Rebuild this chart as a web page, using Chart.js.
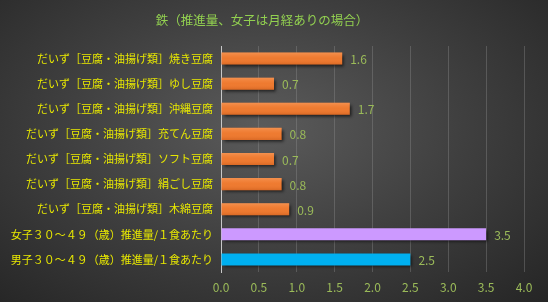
<!DOCTYPE html>
<html>
<head>
<meta charset="utf-8">
<script src="https://cdn.jsdelivr.net/npm/chart.js@4/dist/chart.umd.min.js"></script>
<style>
html,body{margin:0;padding:0;}
body{width:548px;height:302px;overflow:hidden;
background:radial-gradient(ellipse farthest-corner at 48% 42%, #5b5b5b 0%, #3f3f3f 50%, #252525 100%);}
#wrap{position:relative;width:548px;height:302px;}
</style>
</head>
<body>
<div id="wrap"><canvas id="c" width="548" height="302"></canvas></div>
<script>
const title = "鉄（推進量、女子は月経ありの場合）";
const categories = [
  "だいず［豆腐・油揚げ類］焼き豆腐",
  "だいず［豆腐・油揚げ類］ゆし豆腐",
  "だいず［豆腐・油揚げ類］沖縄豆腐",
  "だいず［豆腐・油揚げ類］充てん豆腐",
  "だいず［豆腐・油揚げ類］ソフト豆腐",
  "だいず［豆腐・油揚げ類］絹ごし豆腐",
  "だいず［豆腐・油揚げ類］木綿豆腐",
  "女子３０～４９（歳）推進量/１食あたり",
  "男子３０～４９（歳）推進量/１食あたり"
];
const values = [1.6, 0.7, 1.7, 0.8, 0.7, 0.8, 0.9, 3.5, 2.5];
const barColors = ["#ee7a30","#ee7a30","#ee7a30","#ee7a30","#ee7a30","#ee7a30","#ee7a30","#cc99ff","#00b0f0"];
const tickValues = [0, 0.5, 1.0, 1.5, 2.0, 2.5, 3.0, 3.5, 4.0];

const FONT = "'Noto Sans CJK JP', 'Noto Sans', sans-serif";

const shadowPlugin = {
  id: 'shadow',
  beforeDatasetsDraw(chart) {
    const ctx = chart.ctx;
    ctx.save();
    ctx.shadowColor = 'rgba(0,0,0,0.65)';
    ctx.shadowOffsetX = 2;
    ctx.shadowOffsetY = 2;
    ctx.shadowBlur = 3;
  },
  afterDatasetsDraw(chart) {
    const ctx = chart.ctx;
    ctx.restore();
    const meta = chart.getDatasetMeta(0);
    meta.data.forEach((el, i) => {
      if (i >= 7) return;
      const p = el.getProps(['x','y','base','height'], true);
      const top = p.y - p.height / 2;
      const g = ctx.createLinearGradient(0, top, 0, top + p.height);
      g.addColorStop(0, 'rgba(255,190,140,0.35)');
      g.addColorStop(0.5, 'rgba(255,150,80,0.0)');
      g.addColorStop(1, 'rgba(150,50,0,0.25)');
      ctx.save();
      ctx.fillStyle = g;
      ctx.fillRect(p.base, top, p.x - p.base, p.height);
      ctx.restore();
    });
    ctx.save();
    ctx.font = "12px " + FONT;
    ctx.fillStyle = '#9bbb59';
    ctx.textAlign = 'left';
    ctx.textBaseline = 'middle';
    meta.data.forEach((el, i) => {
      const p = el.getProps(['x','y'], true);
      ctx.fillText(values[i].toFixed(1), p.x + 8, p.y + 1);
    });
    ctx.restore();
  }
};

new Chart(document.getElementById('c'), {
  type: 'bar',
  data: {
    labels: categories,
    datasets: [{
      data: values,
      backgroundColor: barColors,
      borderWidth: 0,
      barPercentage: 0.96,
      categoryPercentage: 0.5
    }]
  },
  options: {
    indexAxis: 'y',
    responsive: false,
    animation: false,
    devicePixelRatio: 1,
    layout: { padding: { left: 0, right: 24, top: 0, bottom: 0 } },
    plugins: {
      legend: { display: false },
      tooltip: { enabled: false },
      title: {
        display: true,
        text: title,
        color: '#92d050',
        font: { family: FONT, size: 12.5, weight: 'normal' },
        padding: { top: 13, bottom: 18 }
      }
    },
    scales: {
      x: {
        min: 0, max: 4,
        afterBuildTicks(scale) { scale.ticks = tickValues.map(v => ({ value: v })); },
        afterFit(scale) { scale.height = 30; },
        grid: { color: 'rgba(150,150,150,0.35)', drawTicks: false, lineWidth: 1 },
        border: { display: false },
        ticks: {
          color: '#9bbb59',
          font: { family: FONT, size: 12 },
          padding: 8,
          callback: (v) => Number(v).toFixed(1)
        }
      },
      y: {
        afterFit(scale) { scale.width = 221; },
        grid: { display: false, drawTicks: false },
        border: { display: true, color: '#c8c8c8', width: 1 },
        ticks: {
          color: '#e8e800',
          font: { family: FONT, size: 11 },
          padding: 8,
          autoSkip: false
        }
      }
    }
  },
  plugins: [shadowPlugin]
});
</script>
</body>
</html>
